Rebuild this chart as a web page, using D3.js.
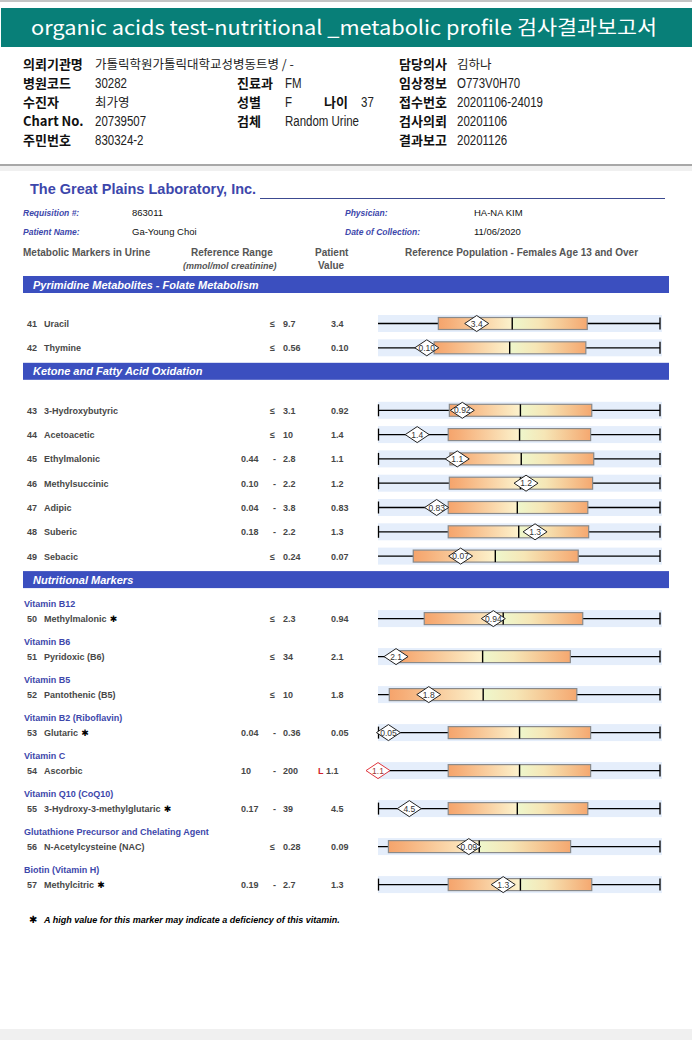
<!DOCTYPE html>
<html>
<head>
<meta charset="utf-8">
<script src="https://d3js.org/d3.v7.min.js"></script>
<style>
body {margin:0; background:#fff;}
text {font-family:'Liberation Sans', Arial, sans-serif;}
</style>
</head>
<body>
<svg id="chart" width="692" height="1040"></svg>
<script>
// ---------- report header ----------
var title = 'organic acids test-nutritional _metabolic profile 검사결과보고서'
var col1Labels = ['의뢰기관명','병원코드','수진자','Chart No.','주민번호']
var col1Values = ['가톨릭학원가톨릭대학교성병동트병 / -','30282','최가영','20739507','830324-2']
var col2Labels = ['','진료과','성별','검체','']
var col2Values = ['','FM','F','Random Urine','']
var col3Labels = ['담당의사','임상정보','접수번호','검사의뢰','결과보고']
var col3Values = ['김하나','O773V0H70','20201106-24019','20201106','20201126']
var ageLabel = '나이', ageValue = '37'

// ---------- lab header ----------
var labName = 'The Great Plains Laboratory, Inc.'
var labLeftLabels = ['Requisition #:','Patient Name:']
var labLeftValues = ['863011','Ga-Young Choi']
var labRightLabels = ['Physician:','Date of Collection:']
var labRightValues = ['HA-NA KIM','11/06/2020']

// ---------- results ----------
var sections = ['Pyrimidine Metabolites - Folate Metabolism','Ketone and Fatty Acid Oxidation','Nutritional Markers']
var markerNo = [41,42,43,44,45,46,47,48,49,50,51,52,53,54,55,56,57]
var markerName = ['Uracil','Thymine','3-Hydroxybutyric','Acetoacetic','Ethylmalonic','Methylsuccinic','Adipic','Suberic','Sebacic',
  'Methylmalonic','Pyridoxic (B6)','Pantothenic (B5)','Glutaric','Ascorbic','3-Hydroxy-3-methylglutaric','N-Acetylcysteine (NAC)','Methylcitric']
var markerSection = [0,0,1,1,1,1,1,1,1,2,2,2,2,2,2,2,2]
var vitaminGroup = ['','','','','','','','','',
  'Vitamin B12','Vitamin B6','Vitamin B5','Vitamin B2 (Riboflavin)','Vitamin C','Vitamin Q10 (CoQ10)','Glutathione Precursor and Chelating Agent','Biotin (Vitamin H)']
var deficiencyMark = [0,0,0,0,0,0,0,0,0,1,0,0,1,0,1,0,1]
var refLow  = ['','','','','0.44','0.10','0.04','0.18','','','','','0.04','10','0.17','','0.19']
var refHigh = ['9.7','0.56','3.1','10','2.8','2.2','3.8','2.2','0.24','2.3','34','10','0.36','200','39','0.28','2.7']
var patientValue = ['3.4','0.10','0.92','1.4','1.1','1.2','0.83','1.3','0.07','0.94','2.1','1.8','0.05','1.1','4.5','0.09','1.3']
var patientFlag = ['','','','','','','','','','','','','','L','','','']
// positions on the reference population scale (0-100)
var boxLow  = [21.4,19.9,25.3,24.9,25.5,25.3,24.9,24.9,12.5,16.4,6.5,4.0,24.9,24.9,24.9,3.7,24.9]
var boxMed  = [47.6,46.7,50.5,50.2,50.8,50.5,49.4,49.9,41.6,44.4,37.1,37.3,50.2,50.2,49.4,35.9,50.5]
var boxHigh = [74.2,73.7,75.8,75.4,76.5,76.1,74.4,74.7,71.0,72.6,68.2,70.5,75.4,75.4,74.4,68.3,75.8]
var patientPos = [35.0,17.3,29.9,13.9,28.1,52.5,20.8,55.7,29.3,40.9,6.4,18.0,3.7,0,11.1,32.2,44.4]
var leftTick = [0,0,1,1,1,1,1,1,0,0,0,0,1,1,1,0,1]
var footnote = 'A high value for this marker may indicate a deficiency of this vitamin.'

var svg = d3.select('#chart')
var blue = '#3b4fbf', labBlue = '#3d47ab', grey = '#474747'

// page frame
svg.append('rect').attr('x',0).attr('y',0).attr('width',692).attr('height',2).attr('fill','#c4c4c4')
svg.append('rect').attr('x',0).attr('y',166).attr('width',692).attr('height',5).attr('fill','#f0f0f0')
svg.append('rect').attr('x',0).attr('y',164).attr('width',692).attr('height',2).attr('fill','#a8a8a8')
svg.append('rect').attr('x',0).attr('y',1029).attr('width',692).attr('height',11).attr('fill','#f0f0f0')

// title bar
svg.append('rect').attr('x',1).attr('y',8).attr('width',691).attr('height',39).attr('fill','#087f78')
svg.append('text').attr('x',344).attr('y',35).attr('text-anchor','middle')
  .style('font-family',"'Noto Sans CJK KR','Noto Sans',sans-serif").style('font-size','20px').attr('fill','#fff')
  .attr('textLength',626).attr('lengthAdjust','spacingAndGlyphs')
  .text(title)

// header info
var rowY = function(i) {return 69 + i*19.1;}
var labelFont = "'Noto Sans CJK KR',sans-serif"
var hangul = /[\uac00-\ud7a3]/
function valueText(vx, y, t) {
  if (hangul.test(t)) {
    svg.append('text').attr('x',vx).attr('y',y).style('font-family',labelFont)
      .style('font-size','12.5px').attr('fill','#222').text(t)
  } else {
    // condensed look of the original report font
    svg.append('text').attr('transform','translate('+vx+','+y+') scale(0.82,1)')
      .style('font-family',"'Liberation Sans',sans-serif").style('font-size','14px').attr('fill','#222').text(t)
  }
}
function infoCol(labels, values, lx, vx) {
  labels.forEach(function(l,i) {
    if (!l) return
    svg.append('text').attr('x',lx).attr('y',rowY(i)).style('font-family',labelFont).style('font-weight','bold')
      .style('font-size','13px').attr('fill','#111').text(l)
    valueText(vx, rowY(i), values[i])
  })
}
infoCol(col1Labels, col1Values, 23, 95)
infoCol(col2Labels, col2Values, 237, 285)
infoCol(col3Labels, col3Values, 399, 457)
svg.append('text').attr('x',324).attr('y',rowY(2)).style('font-family',labelFont).style('font-weight','bold')
  .style('font-size','13px').attr('fill','#111').text(ageLabel)
valueText(361, rowY(2), ageValue)

// lab header
svg.append('text').attr('x',30).attr('y',194).style('font-weight','bold').style('font-size','14.5px')
  .attr('fill',labBlue).text(labName)
svg.append('line').attr('x1',260).attr('x2',665).attr('y1',198.5).attr('y2',198.5).attr('stroke','#3c4a90').attr('stroke-width',1)
labLeftLabels.forEach(function(l,i) {
  var y = 216 + i*18.5
  svg.append('text').attr('x',23).attr('y',y).style('font-weight','bold').style('font-style','italic')
    .style('font-size','8.5px').attr('fill',labBlue).text(l)
  svg.append('text').attr('x',132).attr('y',y).style('font-size','9.5px').attr('fill','#111').text(labLeftValues[i])
  svg.append('text').attr('x',345).attr('y',y).style('font-weight','bold').style('font-style','italic')
    .style('font-size','8.5px').attr('fill',labBlue).text(labRightLabels[i])
  svg.append('text').attr('x',474).attr('y',y).style('font-size','9.5px').attr('fill','#111').text(labRightValues[i])
})
function colHead(x, y, t, italic) {
  svg.append('text').attr('x',x).attr('y',y).style('font-weight','bold').style('font-style',italic?'italic':'normal')
    .style('font-size',italic?'9px':'10px').attr('fill','#555').text(t)
}
colHead(23,256,'Metabolic Markers in Urine')
colHead(191,256,'Reference Range')
colHead(183,269,'(mmol/mol creatinine)',true)
colHead(315,256,'Patient')
colHead(318,269,'Value')
colHead(405,256,'Reference Population - Females Age 13 and Over')

// gradients for the boxes
var defs = svg.append('defs')
var gl = defs.append('linearGradient').attr('id','gl')
gl.append('stop').attr('offset','0%').attr('stop-color','#f5a46c')
gl.append('stop').attr('offset','15%').attr('stop-color','#f6ae78')
gl.append('stop').attr('offset','100%').attr('stop-color','#fcf3cd')
var gr = defs.append('linearGradient').attr('id','gr')
gr.append('stop').attr('offset','0%').attr('stop-color','#eef7cc')
gr.append('stop').attr('offset','35%').attr('stop-color','#f6e6b6')
gr.append('stop').attr('offset','100%').attr('stop-color','#f5a870')

// layout of rows
var x = d3.scaleLinear().domain([0,100]).range([378,660])
var rowsY = [], barsY = []
var cursor = 276, prev = -1
markerNo.forEach(function(n,i) {
  if (markerSection[i] !== prev) {
    if (i > 0) cursor = rowsY[i-1] + 15
    barsY.push(cursor)
    cursor += 47.5
    prev = markerSection[i]
  } else {
    cursor += vitaminGroup[i] ? 38 : 24.3
  }
  rowsY.push(cursor)
})

// section bars
sections.forEach(function(s,i) {
  svg.append('rect').attr('x',23).attr('y',barsY[i]).attr('width',646).attr('height',17).attr('fill',blue)
  svg.append('text').attr('x',33).attr('y',barsY[i]+12.5).style('font-weight','bold').style('font-style','italic')
    .style('font-size','11px').attr('fill','#fff').text(s)
})

var rows = svg.selectAll('g.row').data(markerNo).enter().append('g').attr('class','row')
  .attr('transform',function(d,i) {return 'translate(0,'+rowsY[i]+')';})

rows.filter(function(d,i) {return vitaminGroup[i];}).append('text')
  .attr('x',24).attr('y',-12).style('font-weight','bold').style('font-size','9px').attr('fill',labBlue)
  .text(function(d) {return vitaminGroup[markerNo.indexOf(d)];})

var tf = function(sel, xx, t, col) {
  return sel.append('text').attr('x',xx).attr('y',3.5).style('font-weight','bold').style('font-size','9px')
    .attr('fill',col || grey).text(t)
}
rows.each(function(d,i) {
  var g = d3.select(this)
  tf(g, 27, d)
  var nm = tf(g, 44, markerName[i])
  if (deficiencyMark[i]) nm.append('tspan').style('font-family','DejaVu Sans').style('font-size','9px').attr('fill','#000').text(' ✱')
  if (refLow[i]) {
    tf(g, 241, refLow[i]); tf(g, 273, '-'); tf(g, 283, refHigh[i])
  } else {
    tf(g, 270, '≤'); tf(g, 283, refHigh[i])
  }
  if (patientFlag[i]) {
    tf(g, 318, patientFlag[i], '#d0202a'); tf(g, 326, patientValue[i])
  } else tf(g, 331, patientValue[i])

  // plot
  g.append('rect').attr('x',x(0)).attr('y',-8.5).attr('width',x(100)-x(0)+2).attr('height',17).attr('fill','#e5eefb')
  g.append('line').attr('x1',x(0)).attr('x2',x(100)).attr('y1',0).attr('y2',0).attr('stroke','#000').attr('stroke-width',1.3)
  g.append('line').attr('x1',x(100)).attr('x2',x(100)).attr('y1',-6).attr('y2',6).attr('stroke','#000').attr('stroke-width',1.3)
  if (leftTick[i]) g.append('line').attr('x1',x(0)+0.5).attr('x2',x(0)+0.5).attr('y1',-6).attr('y2',6).attr('stroke','#000').attr('stroke-width',1.3)
  g.append('rect').attr('x',x(boxLow[i])).attr('y',-6).attr('width',x(boxMed[i])-x(boxLow[i])).attr('height',12).attr('fill','url(#gl)')
  g.append('rect').attr('x',x(boxMed[i])).attr('y',-6).attr('width',x(boxHigh[i])-x(boxMed[i])).attr('height',12).attr('fill','url(#gr)')
  g.append('rect').attr('x',x(boxLow[i])).attr('y',-6).attr('width',x(boxHigh[i])-x(boxLow[i])).attr('height',12)
    .attr('fill','none').attr('stroke','#8a8a8a').attr('stroke-width',1.2)
  g.append('line').attr('x1',x(boxMed[i])).attr('x2',x(boxMed[i])).attr('y1',-6).attr('y2',6).attr('stroke','#000').attr('stroke-width',1.4)
  var low = patientFlag[i] === 'L'
  var m = g.append('g').attr('transform','translate('+x(patientPos[i])+',0)')
  m.append('path').attr('d','M-12,0L0,-8L12,0L0,8Z').attr('fill','#fff').attr('stroke',low?'#e0343c':'#222').attr('stroke-width',1)
  m.append('text').attr('text-anchor','middle').attr('y',3).style('font-size','8.5px')
    .attr('fill',low?'#9a3a3a':'#333').text(patientValue[i])
})

// footnote
var fy = rowsY[rowsY.length-1] + 38
svg.append('text').attr('x',29).attr('y',fy).style('font-family','DejaVu Sans').style('font-size','10px').attr('fill','#000').text('✱')
svg.append('text').attr('x',44).attr('y',fy).style('font-weight','bold').style('font-style','italic')
  .style('font-size','9px').attr('fill','#000').text(footnote)
</script>
</body>
</html>
